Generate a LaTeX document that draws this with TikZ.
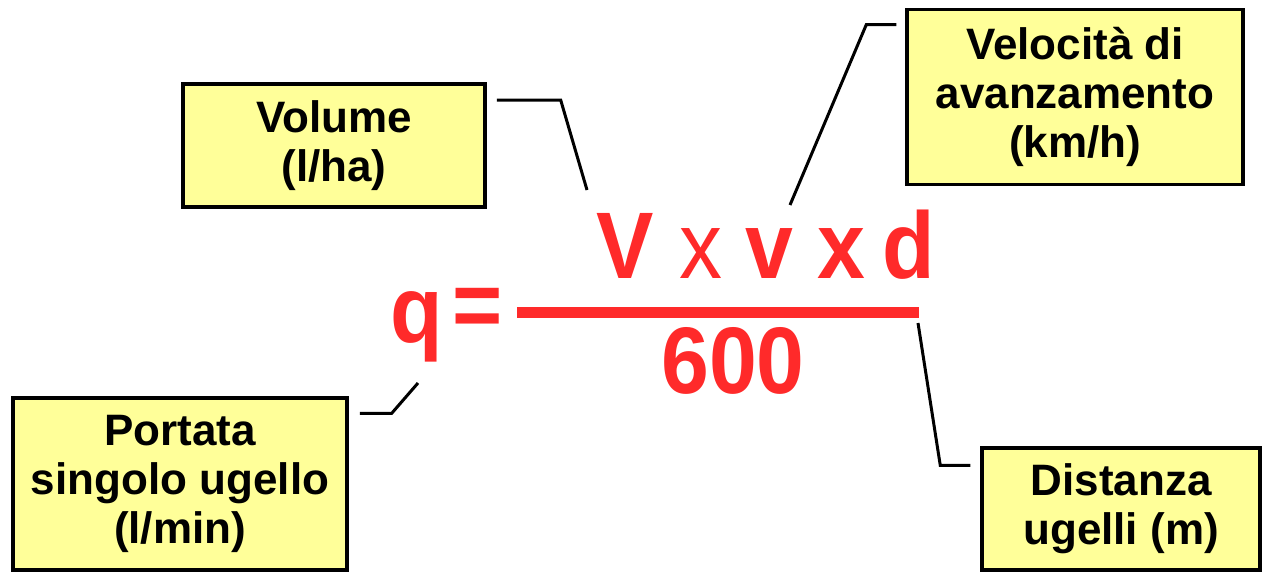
\documentclass[tikz,border=0pt]{standalone}
\usepackage{fontspec}
\setmainfont{Liberation Sans}
\definecolor{boxyellow}{RGB}{255,255,153}
\definecolor{formred}{RGB}{255,42,42}
\tikzset{
  labelbox/.style={draw=black, line width=3.5pt, fill=boxyellow, align=center,
    font=\fontsize{44}{49}\selectfont\bfseries, inner sep=0pt},
  glyph/.style={text=formred, inner sep=0pt, anchor=base,
    font=\fontsize{86}{86}\selectfont\bfseries},
  thinglyph/.style={glyph, font=\fontsize{86}{86}\selectfont\mdseries},
  leader/.style={draw=black, line width=3pt}
}
\newcommand{\stretchy}[1]{\scalebox{1}[1.1]{#1}}
\begin{document}
\begin{tikzpicture}[x=1pt,y=-1pt]
\useasboundingbox (0,0) rectangle (1264,572);
% label boxes
\node[labelbox, minimum width=302pt, minimum height=123pt] (vol) at (334,145.5) {Volume\\(l/ha)};
\node[labelbox, minimum width=336pt, minimum height=175pt] (vel) at (1075,97) {Velocità di\\avanzamento\\(km/h)};
\node[labelbox, minimum width=334pt, minimum height=172pt] (por) at (180,484) {Portata\\singolo ugello\\(l/min)};
\node[labelbox, minimum width=278pt, minimum height=122pt] (dis) at (1121,509) {Distanza\\ugelli (m)};
% formula
\node[glyph] (q) at (417,342) {\stretchy{q}};
\node[glyph] (eq) at (477.5,337) {\stretchy{=}};
\node[glyph] (V) at (625.5,279) {\stretchy{V}};
\node[thinglyph] (x1) at (700.5,279) {\stretchy{x}};
\node[glyph] (v) at (769,279) {\stretchy{v}};
\node[glyph] (x2) at (841.5,279) {\stretchy{x}};
\node[glyph] (d) at (908.5,279) {\stretchy{d}};
\node[fill=formred, inner sep=0pt, minimum width=402pt, minimum height=11pt] (bar) at (718,312.5) {};
\node[glyph] (den) at (733,393) {\stretchy{600}};
% leader line ends
\coordinate (volend) at (587,190);
\coordinate (velend) at (790,205);
\coordinate (porend) at (418,383);
\coordinate (disend) at (918,323);
% leaders
\draw[leader] ([shift={(10,18)}]vol.north east) -- ++(64,0) -- (volend);
\draw[leader] ([shift={(-9,17)}]vel.north west) -- ++(-30,0) -- (velend);
\draw[leader] ([shift={(11,17)}]por.north east) -- ++(32,0) -- (porend);
\draw[leader] ([shift={(-10,19)}]dis.north west) -- ++(-30,0) -- (disend);
\end{tikzpicture}
\end{document}
